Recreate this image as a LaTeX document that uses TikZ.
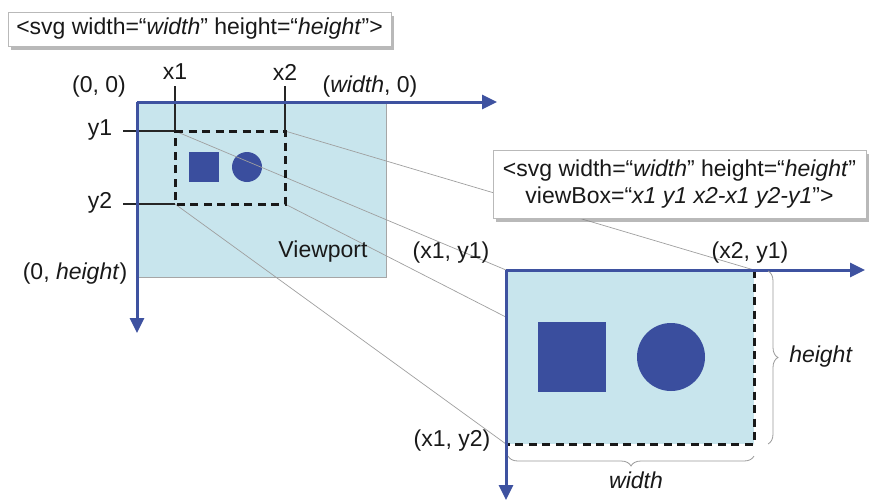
\documentclass[tikz,border=0pt]{standalone}
\usepackage{fontspec}
\setmainfont{Liberation Sans}
\usetikzlibrary{arrows.meta,shadows,decorations.pathreplacing}
\definecolor{axisblue}{RGB}{62,82,160}
\definecolor{vpfill}{RGB}{200,229,237}
\definecolor{shapeblue}{RGB}{58,78,158}
\definecolor{txt}{RGB}{25,25,25}
\begin{document}
\begin{tikzpicture}[x=1pt,y=-1pt,
  lbl/.style={font=\fontsize{23}{27}\selectfont, text=txt, inner sep=0pt},
  axisline/.style={draw=axisblue, line width=3pt, -{Triangle[length=15pt,width=14pt]}},
  tickline/.style={draw=black!85, line width=2pt},
  dashline/.style={draw=black!90, line width=3pt, dash pattern=on 8pt off 5.5pt},
  guide/.style={draw=gray!75, line width=0.7pt},
  callout/.style={draw=gray!55, fill=white, line width=0.6pt, inner sep=0pt,
    drop shadow={shadow xshift=3pt, shadow yshift=-4pt, opacity=0.55, fill=gray}},
  bracestyle/.style={draw=gray!80, line width=0.8pt, decorate, decoration={brace, amplitude=10pt}}]

\useasboundingbox (0,0) rectangle (870,501);

% ---- coordinates, left ----
\coordinate (O) at (137,102);
\coordinate (VPbr) at (386,277);
\coordinate (Xend) at (497,102);
\coordinate (Yend) at (137,333);
\coordinate (A) at (175,131);
\coordinate (B) at (285,131);
\coordinate (C) at (285,204);
\coordinate (D) at (175,204);
\coordinate (x1top) at (175,86);
\coordinate (x2top) at (285,86);
\coordinate (y1left) at (123,131);
\coordinate (y2left) at (123,204);
% ---- coordinates, right ----
\coordinate (O2) at (506,270);
\coordinate (B2) at (754,270);
\coordinate (C2) at (754,444);
\coordinate (D2) at (506,444);
\coordinate (X2end) at (865,270);
\coordinate (Y2end) at (506,500);

% left viewport
\draw[fill=vpfill, draw=gray!70, line width=0.8pt] (O) rectangle (VPbr);
\fill[shapeblue] (189,152) rectangle (219,182);
\fill[shapeblue] (247,167) circle (15);

% guide lines
\draw[guide] (A) -- (O2);
\draw[guide] (B) -- (B2);
\draw[guide] (C) -- (C2);
\draw[guide] (D) -- (D2);

% ticks and dashed viewBox
\draw[tickline] (x1top) -- (A);
\draw[tickline] (x2top) -- (B);
\draw[tickline] (y1left) -- (A);
\draw[tickline] (y2left) -- (D);
\draw[dashline] (A) -- (B) -- (C) -- (D) -- cycle;

% left axes
\draw[axisline] (O) -- (Xend);
\draw[axisline] (O) -- (Yend);

% right viewport
\fill[vpfill] (O2) rectangle (C2);
\fill[shapeblue] (538,322) rectangle (606,392);
\fill[shapeblue] (671,357) circle (34);
\draw[dashline] (B2) -- (C2) -- (D2);
\draw[axisline] (O2) -- (X2end);
\draw[axisline] (O2) -- (Y2end);

% braces
\coordinate (hb1) at (768,271);
\coordinate (hb2) at (768,444);
\coordinate (wb1) at (754,456);
\coordinate (wb2) at (508,456);
\draw[bracestyle] (hb1) -- (hb2);
\draw[bracestyle] (wb1) -- (wb2);

% callouts
\node[callout, minimum width=383pt, minimum height=34pt, lbl] (call1) at (199.5,29)
  {<svg width=“\textit{width}” height=“\textit{height}”>};
\node[callout, minimum width=373pt, minimum height=68pt, lbl, align=center] (call2) at (679.5,184)
  {<svg width=“\textit{width}” height=“\textit{height}”\\viewBox=“\textit{x1 y1 x2-x1 y2-y1}”>};

% labels
\node[lbl] (l00) at (99,87) {(0, 0)};
\node[lbl] (lx1) at (175,72) {x1};
\node[lbl] (lx2) at (285,72) {x2};
\node[lbl] (lw0) at (370,87) {(\textit{width}, 0)};
\node[lbl] (ly1) at (100,130) {y1};
\node[lbl] (ly2) at (100,203) {y2};
\node[lbl] (l0h) at (75,274) {(0, \textit{height})};
\node[lbl] (lvp) at (323,252) {Viewport};
\node[lbl] (lx1y1) at (451,253) {(x1, y1)};
\node[lbl] (lx2y1) at (750,253) {(x2, y1)};
\node[lbl] (lx1y2) at (452,441) {(x1, y2)};
\node[lbl] (lh) at (821,357) {\textit{height}};
\node[lbl] (lw) at (636,480) {\textit{width}};
\end{tikzpicture}
\end{document}
